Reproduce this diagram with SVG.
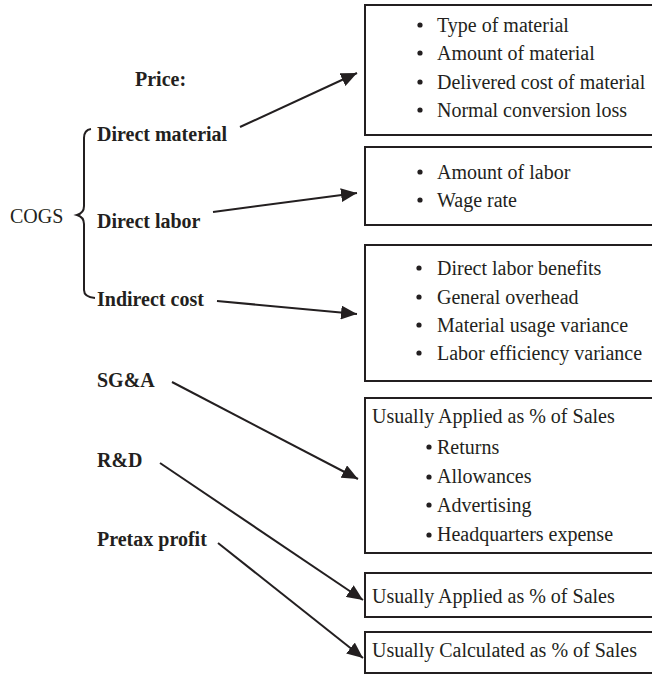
<svg xmlns="http://www.w3.org/2000/svg" width="652" height="675" viewBox="0 0 652 675">
<style>
text{font-family:'Liberation Serif','Times New Roman','DejaVu Serif',serif;font-size:20px;fill:#231f20}
.b{font-weight:bold}
.box{fill:#fff;stroke:#231f20;stroke-width:2}
.con{fill:none;stroke:#231f20;stroke-width:2}
.bul{fill:#231f20}
</style>
<defs>
<marker id="ah" markerUnits="userSpaceOnUse" markerWidth="18" markerHeight="14" refX="16" refY="7" orient="auto">
<path d="M0,0 L16,7 L0,14 Z" fill="#231f20"/>
</marker>
</defs>
<g id="connectors">
<path class="con" d="M91,129 Q84,130 84,138 L84,206 Q84,213 77,215 Q84,217 84,224 L84,290 Q84,297 95,298"/>
<line class="con" x1="240" y1="127" x2="357" y2="73" marker-end="url(#ah)"/>
<line class="con" x1="213" y1="212" x2="357" y2="193" marker-end="url(#ah)"/>
<line class="con" x1="217" y1="301" x2="357" y2="314" marker-end="url(#ah)"/>
<line class="con" x1="172" y1="382" x2="358" y2="479" marker-end="url(#ah)"/>
<line class="con" x1="160" y1="463" x2="363" y2="600" marker-end="url(#ah)"/>
<line class="con" x1="218" y1="543" x2="363" y2="658" marker-end="url(#ah)"/>
</g>
<g id="labels" font-family="Liberation Serif, serif">
<text class="b" x="135" y="86">Price:</text>
<text class="b" x="97" y="141">Direct material</text>
<text x="10" y="223">COGS</text>
<text class="b" x="97" y="228">Direct labor</text>
<text class="b" x="97" y="306">Indirect cost</text>
<text class="b" x="97" y="387">SG&amp;A</text>
<text class="b" x="97" y="467">R&amp;D</text>
<text class="b" x="97" y="546">Pretax profit</text>
</g>
<g id="box1">
<rect class="box" x="365" y="5" width="300" height="130"/>
<circle class="bul" cx="420" cy="25" r="2.6"/><text x="437" y="32">Type of material</text>
<circle class="bul" cx="420" cy="53" r="2.6"/><text x="437" y="60">Amount of material</text>
<circle class="bul" cx="420" cy="82" r="2.6"/><text x="437" y="89">Delivered cost of material</text>
<circle class="bul" cx="420" cy="110" r="2.6"/><text x="437" y="117">Normal conversion loss</text>
</g>
<g id="box2">
<rect class="box" x="365" y="147" width="300" height="78"/>
<circle class="bul" cx="420" cy="172" r="2.6"/><text x="437" y="179">Amount of labor</text>
<circle class="bul" cx="420" cy="200" r="2.6"/><text x="437" y="207">Wage rate</text>
</g>
<g id="box3">
<rect class="box" x="365" y="245" width="300" height="136"/>
<circle class="bul" cx="419" cy="268" r="2.6"/><text x="437" y="275">Direct labor benefits</text>
<circle class="bul" cx="419" cy="297" r="2.6"/><text x="437" y="304">General overhead</text>
<circle class="bul" cx="419" cy="325" r="2.6"/><text x="437" y="332">Material usage variance</text>
<circle class="bul" cx="419" cy="353" r="2.6"/><text x="437" y="360">Labor efficiency variance</text>
</g>
<g id="box4">
<rect class="box" x="365" y="398" width="300" height="155"/>
<text x="372" y="423">Usually Applied as % of Sales</text>
<circle class="bul" cx="429" cy="447" r="2.6"/><text x="437" y="454">Returns</text>
<circle class="bul" cx="429" cy="477" r="2.6"/><text x="437" y="483">Allowances</text>
<circle class="bul" cx="429" cy="505" r="2.6"/><text x="437" y="512">Advertising</text>
<circle class="bul" cx="429" cy="535" r="2.6"/><text x="437" y="541">Headquarters expense</text>
</g>
<g id="box5">
<rect class="box" x="365" y="573" width="300" height="44"/>
<text x="372" y="603">Usually Applied as % of Sales</text>
</g>
<g id="box6">
<rect class="box" x="365" y="632" width="300" height="41"/>
<text x="372" y="657">Usually Calculated as % of Sales</text>
</g>
</svg>
